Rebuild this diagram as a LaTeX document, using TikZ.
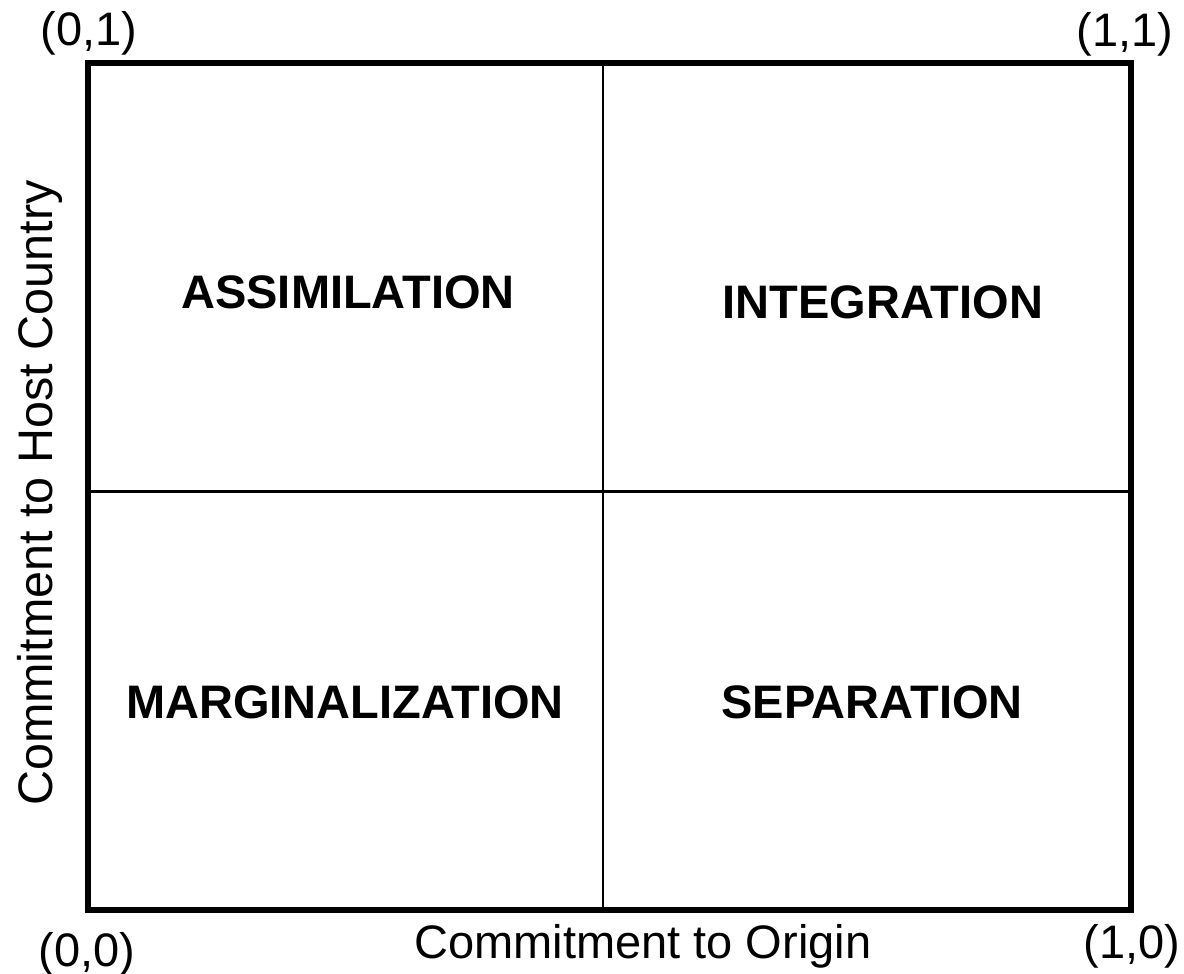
\documentclass[tikz,border=0pt]{standalone}
\usepackage{fontspec}
\setmainfont{Liberation Sans}
\begin{document}
\begin{tikzpicture}[x=1pt,y=-1pt,
  lbl/.style={font=\fontsize{47}{52}\selectfont\bfseries, inner sep=0pt, anchor=base},
  axis/.style={font=\fontsize{47}{52}\selectfont, inner sep=0pt},
  corner/.style={font=\fontsize{47}{52}\selectfont, inner sep=0pt, anchor=base},
  frame/.style={line width=6pt, line cap=rect},
  divider/.style={line width=2.6pt}]
\useasboundingbox (0,0) rectangle (1184,974);
\coordinate (tl) at (87.5,63);
\coordinate (tr) at (1130.5,63);
\coordinate (bl) at (87.5,910);
\coordinate (br) at (1130.5,910);
\coordinate (mt) at (603,63);
\coordinate (mb) at (603,910);
\coordinate (ml) at (87.5,491.5);
\coordinate (mr) at (1130.5,491.5);
\draw[divider] (mt) -- (mb);
\draw[divider] (ml) -- (mr);
\draw[frame] (tl) -- (tr) -- (br) -- (bl) -- cycle;
\node[lbl] (assim) at (348,308) {ASSIMILATION};
\node[lbl] (integ) at (883,318) {INTEGRATION};
\node[lbl] (marg) at (345,718) {MARGINALIZATION};
\node[lbl] (sep) at (872,718) {SEPARATION};
\node[corner] (c01) at (89,46) {(0,1)};
\node[corner] (c11) at (1125,47) {(1,1)};
\node[corner] (c00) at (87,966) {(0,0)};
\node[corner] (c10) at (1132,958) {(1,0)};
\node[axis, anchor=base west] (xlab) at (414,958) {Commitment to Origin};
\node[axis, anchor=base west, rotate=90, font=\fontsize{48.5}{52}\selectfont] (ylab) at (52,806) {Commitment to Host Country};
\end{tikzpicture}
\end{document}
